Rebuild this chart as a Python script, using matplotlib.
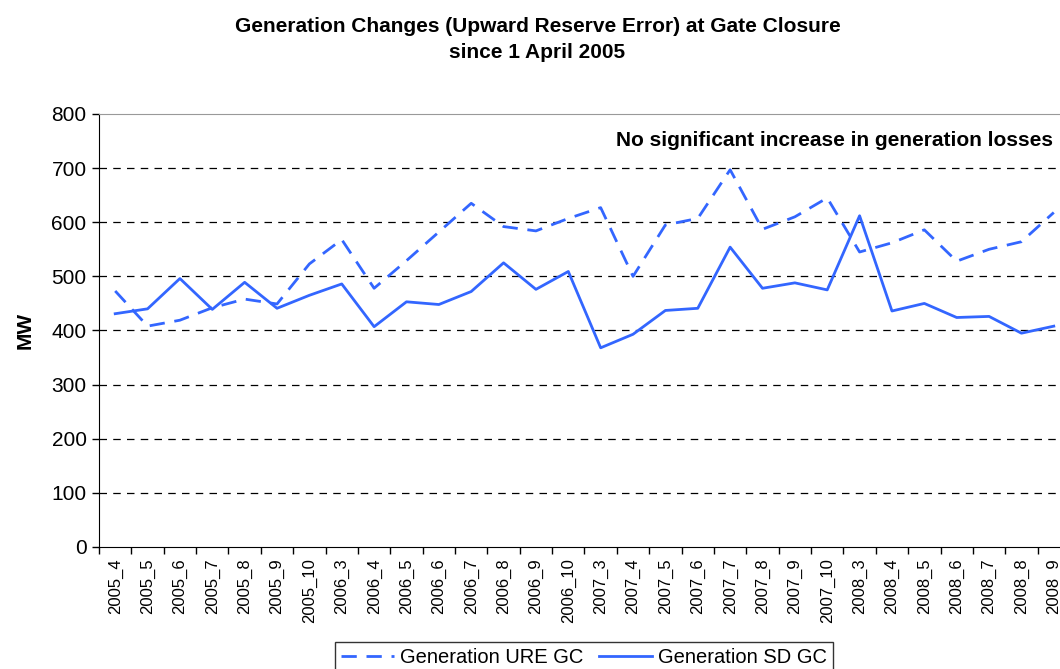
import matplotlib.pyplot as plt
from matplotlib.ticker import FixedLocator

# monthly categories (year_month)
months = ["2005_4", "2005_5", "2005_6", "2005_7", "2005_8", "2005_9", "2005_10",
          "2006_3", "2006_4", "2006_5", "2006_6", "2006_7", "2006_8", "2006_9", "2006_10",
          "2007_3", "2007_4", "2007_5", "2007_6", "2007_7", "2007_8", "2007_9", "2007_10",
          "2008_3", "2008_4", "2008_5", "2008_6", "2008_7", "2008_8", "2008_9"]

ure_gc = [473, 408, 419, 442, 458, 449, 523, 568, 478, 529, 582, 635, 592, 584, 607,
          627, 500, 595, 607, 697, 587, 610, 645, 545, 562, 586, 528, 550, 564, 618]
sd_gc = [431, 440, 496, 439, 489, 441, 465, 486, 407, 453, 448, 472, 525, 476, 509,
         368, 393, 437, 441, 554, 478, 488, 475, 612, 436, 450, 424, 426, 395, 408]

y_ticks = [0, 100, 200, 300, 400, 500, 600, 700, 800]

plt.rcParams['font.family'] = ['Liberation Sans', 'DejaVu Sans']
blue = '#3366FF'

fig = plt.figure(figsize=(10.6, 6.69), dpi=100)
# the plot area runs past the right edge, as in the source image
ax = fig.add_axes([0.0934, 0.1824, 0.916, 0.6472])

x = list(range(len(months)))
ax.plot(x, ure_gc, color=blue, lw=2.0, linestyle=(0, (5.5, 3.5)), label='Generation URE GC', zorder=3)
ax.plot(x, sd_gc, color=blue, lw=2.0, label='Generation SD GC', zorder=3)

ax.set_xlim(-0.5, len(months) - 0.5)
ax.set_ylim(0, 800)
ax.set_yticks(y_ticks)
ax.set_yticklabels([str(v) for v in y_ticks], fontsize=15)

for v in y_ticks[1:-1]:
    ax.axhline(v, color='black', lw=0.9, linestyle=(0, (6, 5)), zorder=1)

ax.set_xticks(x)
ax.set_xticklabels(months, rotation=90, fontsize=12)
ax.tick_params(axis='x', which='major', length=0, pad=8)
ax.xaxis.set_minor_locator(FixedLocator([i - 0.5 for i in range(len(months) + 1)]))
ax.tick_params(axis='x', which='minor', length=5, width=1, direction='out')
ax.tick_params(axis='y', length=5, width=1, direction='out', pad=4)

ax.spines['top'].set_color('#999999')
ax.spines['right'].set_visible(False)
ax.spines['left'].set_color('black')
ax.spines['bottom'].set_color('black')

ax.set_ylabel('MW', fontsize=15, fontweight='bold', labelpad=12)

fig.text(0.507, 0.975, 'Generation Changes (Upward Reserve Error) at Gate Closure\nsince 1 April 2005',
         ha='center', va='top', fontsize=15, fontweight='bold', linespacing=1.5)

fig.text(0.993, 0.790, 'No significant increase in generation losses',
         ha='right', va='center', fontsize=15, fontweight='bold')

leg = fig.legend(loc='upper center', bbox_to_anchor=(0.551, 0.0404), ncol=2,
                 fontsize=14.5, frameon=True, fancybox=False, edgecolor='black',
                 handlelength=2.6, columnspacing=0.8, handletextpad=0.3,
                 borderpad=0.3, borderaxespad=0)
leg.get_frame().set_linewidth(1.0)

fig.savefig('out.png', dpi=100)
